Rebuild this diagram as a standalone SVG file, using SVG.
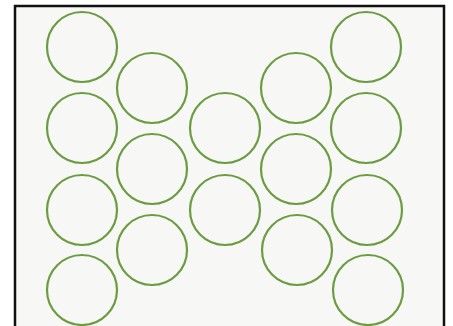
<svg xmlns="http://www.w3.org/2000/svg" width="453" height="326" viewBox="0 0 453 326">
<style>
.c{fill:none;stroke:#6c9c42;stroke-width:2.2}
.f{fill:none;stroke:#111;stroke-width:2.5}
</style>
<rect x="0" y="0" width="453" height="326" fill="#ffffff"/>
<rect x="15" y="6" width="430" height="320" fill="#f7f7f5"/>
<path class="f" d="M15,326 V6 H444 V326"/>
<g id="c1"><circle class="c" cx="82" cy="47" r="35"/></g>
<g id="c2"><circle class="c" cx="82" cy="128" r="35"/></g>
<g id="c3"><circle class="c" cx="82" cy="210" r="35"/></g>
<g id="c4"><circle class="c" cx="82" cy="290" r="35"/></g>
<g id="c5"><circle class="c" cx="152" cy="88" r="35"/></g>
<g id="c6"><circle class="c" cx="152" cy="169" r="35"/></g>
<g id="c7"><circle class="c" cx="152" cy="250" r="35"/></g>
<g id="c8"><circle class="c" cx="225" cy="128" r="35"/></g>
<g id="c9"><circle class="c" cx="225" cy="210" r="35"/></g>
<g id="c10"><circle class="c" cx="296" cy="88" r="35"/></g>
<g id="c11"><circle class="c" cx="296" cy="169" r="35"/></g>
<g id="c12"><circle class="c" cx="297" cy="250" r="35"/></g>
<g id="c13"><circle class="c" cx="366" cy="47" r="35"/></g>
<g id="c14"><circle class="c" cx="366" cy="128" r="35"/></g>
<g id="c15"><circle class="c" cx="367" cy="210" r="35"/></g>
<g id="c16"><circle class="c" cx="368" cy="290" r="35"/></g>
<g id="connectors"></g>
</svg>
